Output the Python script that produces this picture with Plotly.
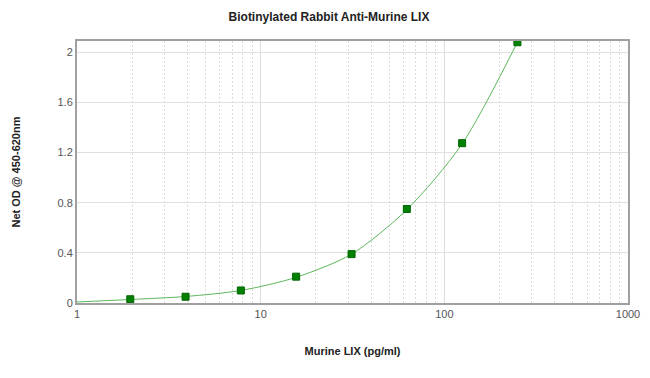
import plotly.graph_objects as go

# Data
conc = [1.95, 3.9, 7.8, 15.6, 31.25, 62.5, 125, 250]
od = [0.03, 0.05, 0.10, 0.21, 0.39, 0.75, 1.275, 2.08]
curve_x = [1, 1.95, 3.9, 7.8, 15.6, 31.25, 62.5, 125, 250]
curve_y = [0.008, 0.028, 0.052, 0.10, 0.205, 0.39, 0.745, 1.27, 2.08]

x_ticks = [1, 10, 100, 1000]
x_text = ["1", "10", "100", "1000"]
x_minor = [m * 10 ** d for d in range(3) for m in range(2, 10)]
y_ticks = [0, 0.4, 0.8, 1.2, 1.6, 2]
y_text = ["0", "0.4", "0.8", "1.2", "1.6", "2"]

fig = go.Figure()
fig.add_trace(go.Scatter(x=curve_x, y=curve_y, mode="lines",
                         line=dict(color="#5cb85c", width=1, shape="spline", smoothing=0.8),
                         hoverinfo="skip", showlegend=False))
fig.add_trace(go.Scatter(x=conc, y=od, mode="markers",
                         marker=dict(symbol="square", size=7, color="#008000",
                                     line=dict(color="#006400", width=1)),
                         showlegend=False))

# the page body adds an 8px offset, so the figure is 8px smaller each way
fig.update_layout(
    width=642, height=370,
    margin=dict(l=69, r=22, t=33, b=75),
    paper_bgcolor="white", plot_bgcolor="white",
    font=dict(family="Liberation Sans, Arial, sans-serif", size=11, color="#555"),
    title=dict(text="<b>Biotinylated Rabbit Anti-Murine LIX</b>", x=0.5, xanchor="center",
               yref="container", y=1 - 9 / 370, yanchor="middle",
               font=dict(size=12, color="#222")),
)
fig.update_xaxes(type="log", range=[0, 3], tickmode="array", tickvals=x_ticks, ticktext=x_text,
                 showgrid=True, gridcolor="#dcdcdc", gridwidth=1,
                 minor=dict(tickmode="array", tickvals=x_minor, showgrid=True,
                            gridcolor="#dcdcdc", griddash="2px,2px", gridwidth=1, ticks=""),
                 showline=True, linecolor="#a0a0a0", linewidth=2, mirror=True,
                 ticks="", tickfont=dict(size=11, color="#555"), zeroline=False,
                 automargin=False,
                 title=dict(text="<b>Murine LIX (pg/ml)</b>", font=dict(size=11, color="#222"),
                            standoff=28))
fig.update_yaxes(range=[0, 2.09], tickvals=y_ticks, ticktext=y_text,
                 showgrid=True, gridcolor="#e0e0e0", gridwidth=1,
                 showline=True, linecolor="#a0a0a0", linewidth=2, mirror=True,
                 ticks="", tickfont=dict(size=11, color="#555"), zeroline=False,
                 automargin=False,
                 title=dict(text="<b>Net OD @ 450-620nm</b>", font=dict(size=11, color="#222"),
                            standoff=35))

fig.write_html("out.html")
